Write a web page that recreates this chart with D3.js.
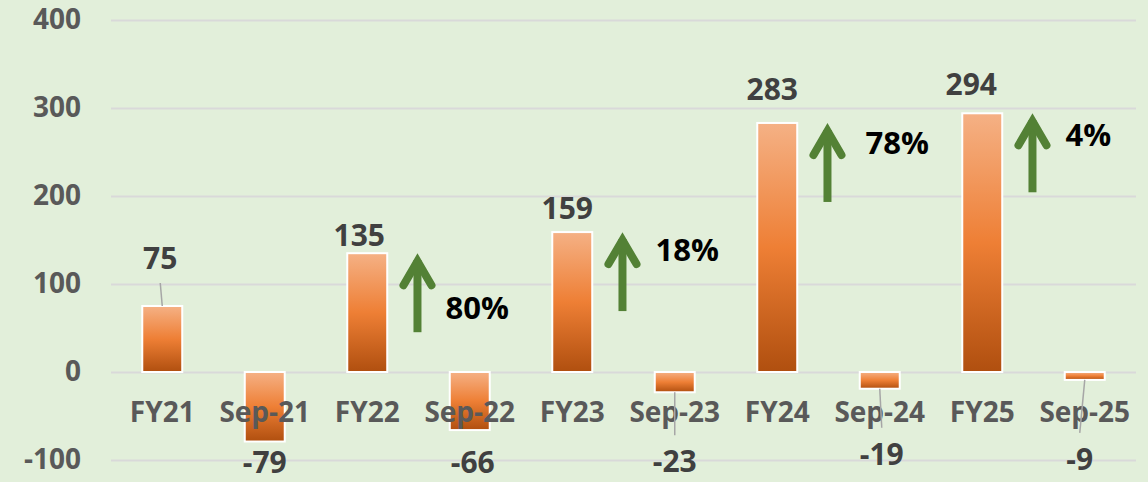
<!DOCTYPE html>
<html>
<head>
<meta charset="utf-8">
<script src="https://cdn.jsdelivr.net/npm/d3@7"></script>
<style>
  body { margin: 0; background: #e2efda; }
  svg text { font-family: "Open Sans", "DejaVu Sans", sans-serif; font-weight: bold; }
</style>
</head>
<body>
<svg id="chart"></svg>
<script>
// data
const categories = ["FY21", "Sep-21", "FY22", "Sep-22", "FY23", "Sep-23", "FY24", "Sep-24", "FY25", "Sep-25"];
const values = [75, -79, 135, -66, 159, -23, 283, -19, 294, -9];
const yTicks = [-100, 0, 100, 200, 300, 400];
const growthBars = ["FY22", "FY23", "FY24", "FY25"];
const growthLabels = ["80%", "18%", "78%", "4%"];

let width = 1148,
    height = 482;

// layout tweaks: where each value label sits relative to its bar end [dx, dy]
let labelShift = [[-2, -37], [0, 31], [-8, -7], [3, 43], [-5, -13],
                  [0, 80], [-5, -23], [2, 76], [-11, -18], [-5, 90]];
// where each growth % sits relative to its arrow tip [dx, dy]
let growthShift = [[28, 67], [33, 30], [38, 32], [33, 34]];

let svg = d3.select("#chart")
    .attr("width", width)
    .attr("height", height);

svg.append("rect")
    .attr("width", width)
    .attr("height", height)
    .attr("fill", "#e2efda");

let x = d3.scaleBand()
    .domain(categories)
    .range([111, 1136])
    .paddingInner(0.61)
    .paddingOuter(0.305);

let y = d3.scaleLinear()
    .domain([-100, 400])
    .range([460, 20]);

// gradient for the bars
let defs = svg.append("defs");
let grad = defs.append("linearGradient")
    .attr("id", "barGrad")
    .attr("x1", 0).attr("y1", 0)
    .attr("x2", 0).attr("y2", 1);
grad.append("stop").attr("offset", "0%").attr("stop-color", "#f5b185");
grad.append("stop").attr("offset", "50%").attr("stop-color", "#ee7f35");
grad.append("stop").attr("offset", "100%").attr("stop-color", "#b04f0f");

// gridlines + y labels
let yAxis = svg.append("g")
    .attr("transform", "translate(111,0)")
    .call(d3.axisLeft(y)
        .tickValues(yTicks)
        .tickFormat(d => String(d))   // plain hyphen like the original
        .tickSize(-(1136 - 111))
        .tickPadding(30));
yAxis.select(".domain").remove();
yAxis.selectAll("line")
    .attr("stroke", "#d9d9d9")
    .attr("stroke-width", 2);
yAxis.selectAll("text")
    .attr("fill", "#595959")
    .style("font-size", "28px");

let rows = categories.map((c, i) => ({ cat: c, value: values[i], i: i }));

// bars
svg.append("g")
    .selectAll("rect")
    .data(rows)
    .join("rect")
    .attr("x", d => x(d.cat))
    .attr("y", d => y(Math.max(0, d.value)))
    .attr("width", x.bandwidth())
    .attr("height", d => Math.abs(y(d.value) - y(0)))
    .attr("fill", "url(#barGrad)")
    .attr("stroke", "white")
    .attr("stroke-width", 2);

// category labels sit just under the zero line
svg.append("g")
    .selectAll("text")
    .data(rows)
    .join("text")
    .attr("x", d => x(d.cat) + x.bandwidth() / 2)
    .attr("y", y(0) + 50)
    .attr("text-anchor", "middle")
    .attr("fill", "#595959")
    .style("font-size", "28px")
    .text(d => d.cat);

// value label positions
rows.forEach(d => {
    d.cx = x(d.cat) + x.bandwidth() / 2;
    d.edge = y(d.value);
    d.lx = d.cx + labelShift[d.i][0];
    d.ly = d.edge + labelShift[d.i][1];
    // leader line goes from bar end towards the label
    d.lineEnd = d.value >= 0 ? d.ly + 14 : d.ly - 37;
    d.hasLine = Math.abs(d.lineEnd - d.edge) > 15 && (d.value >= 0 ? d.lineEnd < d.edge : d.lineEnd > d.edge);
});

svg.append("g")
    .selectAll("line")
    .data(rows.filter(d => d.hasLine))
    .join("line")
    .attr("x1", d => d.cx)
    .attr("y1", d => d.edge)
    .attr("x2", d => d.lx)
    .attr("y2", d => d.lineEnd)
    .attr("stroke", "#a6a6a6")
    .attr("stroke-width", 1.5);

svg.append("g")
    .selectAll("text")
    .data(rows)
    .join("text")
    .attr("x", d => d.lx)
    .attr("y", d => d.ly)
    .attr("text-anchor", "middle")
    .attr("fill", "#404040")
    .style("font-size", "30px")
    .text(d => d.value);

// growth arrows
let growth = growthBars.map((c, k) => {
    let v = values[categories.indexOf(c)];
    return {
        label: growthLabels[k],
        ax: x(c) + x.bandwidth() / 2 + x.step() * 0.49,
        tip: y(v) - 1,
        k: k
    };
});

let arrows = svg.append("g")
    .attr("stroke", "#538135")
    .attr("fill", "none")
    .attr("stroke-width", 8);

arrows.selectAll("line")
    .data(growth)
    .join("line")
    .attr("x1", d => d.ax)
    .attr("x2", d => d.ax)
    .attr("y1", d => d.tip + 8)
    .attr("y2", d => d.tip + 80);

arrows.selectAll("path")
    .data(growth)
    .join("path")
    .attr("stroke-linecap", "round")
    .attr("stroke-linejoin", "miter")
    .attr("d", d => {
        let p = d.tip + 9;
        return "M" + (d.ax - 14) + "," + (p + 24) + "L" + d.ax + "," + p + "L" + (d.ax + 14) + "," + (p + 24);
    });

svg.append("g")
    .selectAll("text")
    .data(growth)
    .join("text")
    .attr("x", d => d.ax + growthShift[d.k][0])
    .attr("y", d => d.tip + growthShift[d.k][1])
    .attr("fill", "#000")
    .style("font-size", "31px")
    .text(d => d.label);
</script>
</body>
</html>
